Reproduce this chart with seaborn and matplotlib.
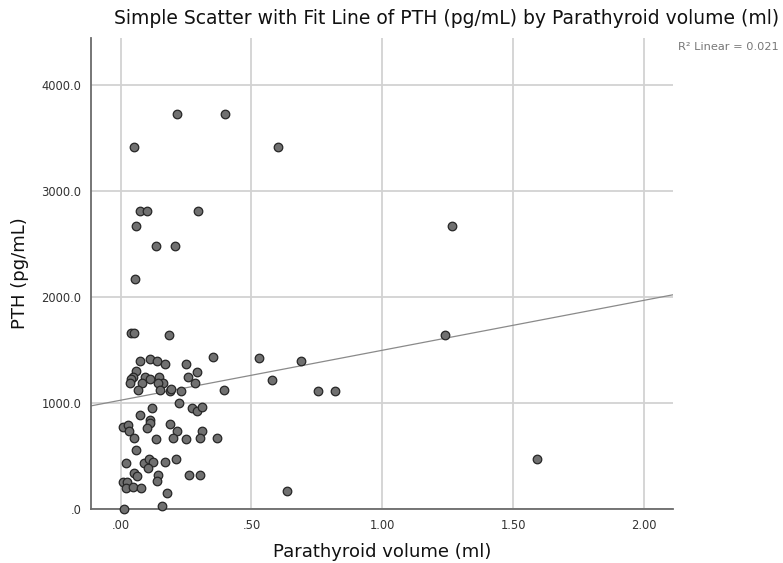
import numpy as np
import pandas as pd
import matplotlib
matplotlib.use("Agg")
import matplotlib.pyplot as plt
import seaborn as sns

# values (volume in ml, PTH in pg/mL)
volume = [0.216, 0.399, 0.051, 0.603, 0.074, 0.102, 0.296, 0.060, 0.136, 0.206,
          0.055, 1.265,
          0.040, 0.050, 0.184, 1.240,
          0.076, 0.114, 0.140, 0.171, 0.251, 0.352, 0.527, 0.690,
          0.060, 0.047, 0.041, 0.036, 0.095, 0.112, 0.083, 0.146, 0.163, 0.142,
          0.152, 0.188, 0.194, 0.232, 0.257, 0.291, 0.283, 0.067, 0.396, 0.579,
          0.753, 0.819,
          0.119, 0.225, 0.273, 0.292, 0.310, 0.076, 0.112, 0.112, 0.009, 0.029,
          0.034, 0.101, 0.189, 0.215, 0.311,
          0.050, 0.135, 0.200, 0.251, 0.304, 0.367, 0.058,
          0.019, 0.089, 0.107, 0.124, 0.104, 0.170, 0.210, 1.590,
          0.051, 0.064, 0.144, 0.141, 0.262, 0.302,
          0.009, 0.026, 0.019, 0.047, 0.079, 0.178, 0.636,
          0.013, 0.159]
pth = [3728, 3728, 3413, 3413, 2809, 2809, 2809, 2668, 2479, 2479,
       2165, 2665,
       1655, 1655, 1640, 1637,
       1395, 1417, 1395, 1363, 1363, 1436, 1420, 1394,
       1300, 1243, 1222, 1190, 1247, 1222, 1190, 1247, 1190, 1184,
       1121, 1111, 1130, 1108, 1247, 1294, 1184, 1121, 1121, 1219,
       1108, 1108,
       948, 995, 948, 923, 960, 882, 838, 813, 775, 790,
       734, 759, 797, 734, 734,
       665, 656, 665, 656, 665, 665, 555,
       436, 436, 467, 445, 389, 442, 467, 467,
       342, 310, 316, 262, 325, 319,
       253, 253, 200, 209, 200, 149, 168,
       2, 26]

x_ticks = [0.0, 0.5, 1.0, 1.5, 2.0]
x_ticklabels = [".00", ".50", "1.00", "1.50", "2.00"]
y_ticks = [0, 1000, 2000, 3000, 4000]
y_ticklabels = [".0", "1000.0", "2000.0", "3000.0", "4000.0"]

df = pd.DataFrame({"Parathyroid volume (ml)": volume, "PTH (pg/mL)": pth})

sns.set_style("white")
plt.rcParams["font.family"] = ["DejaVu Sans"]

fig = plt.figure(figsize=(7.83, 5.63), dpi=100)
ax = fig.add_axes([91 / 783, 54 / 563, 582 / 783, 471 / 563])
ax.set_xlim(-0.113, 2.11)
ax.set_ylim(0, 4440)

# grid first so the marks sit on top
ax.set_axisbelow(True)
ax.grid(True, color="#d2d2d2", linewidth=1.3)

# fit line across the whole x range
sns.regplot(data=df, x="Parathyroid volume (ml)", y="PTH (pg/mL)", ax=ax,
            scatter=False, ci=None, truncate=False,
            line_kws={"color": "#8a8a8a", "linewidth": 0.9})

sns.scatterplot(data=df, x="Parathyroid volume (ml)", y="PTH (pg/mL)", ax=ax,
                color="#707070", edgecolor="#262626", linewidth=0.9, s=38,
                clip_on=False, zorder=3)

ax.set_xlim(-0.113, 2.11)
ax.set_ylim(0, 4440)
ax.set_xticks(x_ticks)
ax.set_xticklabels(x_ticklabels)
ax.set_yticks(y_ticks)
ax.set_yticklabels(y_ticklabels)
ax.tick_params(axis="both", length=0, labelsize=8.3, colors="#333333", pad=7)

for side in ["top", "right"]:
    ax.spines[side].set_visible(False)
for side in ["left", "bottom"]:
    ax.spines[side].set_color("#6b6b6b")
    ax.spines[side].set_linewidth(1.3)

ax.set_xlabel("Parathyroid volume (ml)", fontsize=13, color="#111111", labelpad=8)
ax.set_ylabel("PTH (pg/mL)", fontsize=13, color="#111111", labelpad=9)

fig.text(447 / 783, 1 - 18 / 563,
         "Simple Scatter with Fit Line of PTH (pg/mL) by Parathyroid volume (ml)",
         ha="center", va="center", fontsize=13.5, color="#111111")
fig.text(678 / 783, 1 - 47 / 563, "R\u00b2 Linear = 0.021",
         ha="left", va="center", fontsize=8.2, color="#777777")

fig.savefig("out.png", dpi=100)
